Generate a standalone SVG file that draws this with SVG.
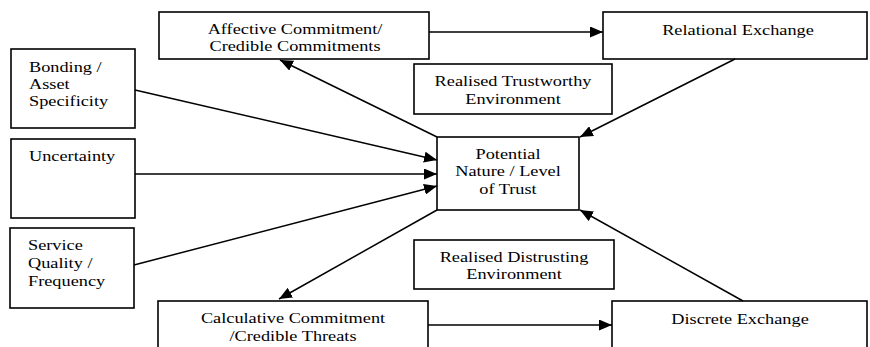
<svg xmlns="http://www.w3.org/2000/svg" width="870" height="347" viewBox="0 0 870 347">
<style>
.box{fill:#fff;stroke:#000;stroke-width:1.6}
.t{font-family:"Liberation Serif","Times New Roman",serif;font-size:15.5px;fill:#000}
.c{text-anchor:middle}
.conn line{stroke:#000;stroke-width:1.5;marker-end:url(#ah)}
</style>
<defs>
<marker id="ah" markerUnits="userSpaceOnUse" markerWidth="14" markerHeight="11" refX="13" refY="5.5" orient="auto">
<path d="M0,0 L13,5.5 L0,11 z" fill="#000"/>
</marker>
</defs>
<rect width="870" height="347" fill="#fff"/>
<g id="affective">
<rect class="box" x="159" y="12" width="270" height="47"/>
<text class="t c" transform="translate(295,0) scale(1.18,1)" y="34">Affective Commitment/</text>
<text class="t c" transform="translate(295,0) scale(1.18,1)" y="51">Credible Commitments</text>
</g>
<g id="relational">
<rect class="box" x="603" y="12" width="264" height="47"/>
<text class="t c" transform="translate(738,0) scale(1.18,1)" y="35">Relational Exchange</text>
</g>
<g id="trustworthy">
<rect class="box" x="414" y="64" width="198" height="50"/>
<text class="t c" transform="translate(513,0) scale(1.18,1)" y="86">Realised Trustworthy</text>
<text class="t c" transform="translate(513,0) scale(1.18,1)" y="104">Environment</text>
</g>
<g id="bonding">
<rect class="box" x="11" y="49" width="124" height="79"/>
<text class="t" transform="translate(29,0) scale(1.18,1)" y="72">Bonding /</text>
<text class="t" transform="translate(29,0) scale(1.18,1)" y="89">Asset</text>
<text class="t" transform="translate(29,0) scale(1.18,1)" y="106">Specificity</text>
</g>
<g id="uncertainty">
<rect class="box" x="11" y="139" width="124" height="79"/>
<text class="t" transform="translate(29,0) scale(1.18,1)" y="161">Uncertainty</text>
</g>
<g id="service">
<rect class="box" x="10" y="228" width="124" height="80"/>
<text class="t" transform="translate(28,0) scale(1.18,1)" y="250">Service</text>
<text class="t" transform="translate(28,0) scale(1.18,1)" y="268">Quality /</text>
<text class="t" transform="translate(28,0) scale(1.18,1)" y="286">Frequency</text>
</g>
<g id="potential">
<rect class="box" x="437" y="137" width="142" height="73"/>
<text class="t c" transform="translate(508,0) scale(1.18,1)" y="159">Potential</text>
<text class="t c" transform="translate(508,0) scale(1.18,1)" y="176">Nature / Level</text>
<text class="t c" transform="translate(508,0) scale(1.18,1)" y="194">of Trust</text>
</g>
<g id="distrusting">
<rect class="box" x="414" y="240" width="200" height="49"/>
<text class="t c" transform="translate(514,0) scale(1.18,1)" y="262">Realised Distrusting</text>
<text class="t c" transform="translate(514,0) scale(1.18,1)" y="279">Environment</text>
</g>
<g id="calculative">
<rect class="box" x="158" y="301" width="270" height="60"/>
<text class="t c" transform="translate(293,0) scale(1.18,1)" y="323">Calculative Commitment</text>
<text class="t c" transform="translate(293,0) scale(1.18,1)" y="341">/Credible Threats</text>
</g>
<g id="discrete">
<rect class="box" x="612" y="301" width="255" height="60"/>
<text class="t c" transform="translate(740,0) scale(1.18,1)" y="324">Discrete Exchange</text>
</g>
<g id="connectors" class="conn">
<line x1="429" y1="32" x2="603" y2="32"/>
<line x1="135" y1="90" x2="437" y2="160"/>
<line x1="135" y1="174" x2="437" y2="174"/>
<line x1="134" y1="265" x2="437" y2="186"/>
<line x1="437" y1="137" x2="280" y2="60"/>
<line x1="735" y1="59" x2="580" y2="137"/>
<line x1="437" y1="210" x2="279" y2="299"/>
<line x1="743" y1="301" x2="580" y2="210"/>
<line x1="428" y1="325" x2="612" y2="325"/>
</g>
</svg>
